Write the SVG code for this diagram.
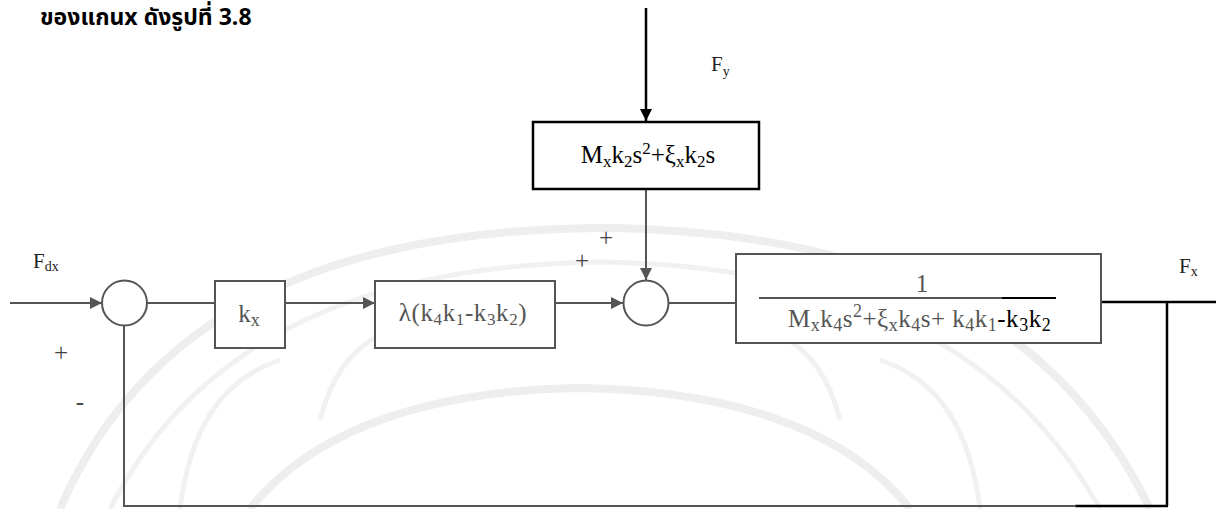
<svg xmlns="http://www.w3.org/2000/svg" width="1216" height="509" viewBox="0 0 1216 509">
  <defs>
    <marker id="arrowG" viewBox="0 0 12 12" refX="12" refY="6" markerWidth="12" markerHeight="12" markerUnits="userSpaceOnUse" orient="auto">
      <path d="M0,0 L12,6 L0,12 Z" fill="#555"/>
    </marker>
    <marker id="arrowK" viewBox="0 0 12 12" refX="12" refY="6" markerWidth="12" markerHeight="12" markerUnits="userSpaceOnUse" orient="auto">
      <path d="M0,0 L12,6 L0,12 Z" fill="#000"/>
    </marker>
    <style>
      .wm { fill: none; stroke: #eeeeee; stroke-width: 8; }
      .wm2 { fill: none; stroke: #f1f1f1; stroke-width: 5; }
      .blk { fill: #fff; stroke: #555; stroke-width: 2; }
      .blkK { fill: #fff; stroke: #000; stroke-width: 2.5; }
      .sum { fill: #fff; stroke: #555; stroke-width: 2; }
      .wire { fill: none; stroke: #555; stroke-width: 2; }
      .wireK { fill: none; stroke: #000; stroke-width: 2.5; }
      .tx { font-family: "Liberation Serif", "DejaVu Serif", serif; font-size: 25px; fill: #555; }
      .txK { font-family: "Liberation Serif", "DejaVu Serif", serif; font-size: 25px; fill: #000; }
      .sb { font-size: 17px; }
      .lbl { font-family: "Liberation Serif", "DejaVu Serif", serif; font-size: 21px; fill: #222; }
      .sign { font-family: "Liberation Serif", "DejaVu Serif", serif; font-size: 25px; fill: #444; }
      .thai { font-family: "Noto Sans Thai", "Noto Sans", "DejaVu Sans", sans-serif; font-size: 23px; font-weight: bold; fill: #000; }
    </style>
  </defs>

  <rect width="1216" height="509" fill="#fff"/>

  <!-- faint seal watermark behind the diagram -->
  <g id="watermark">
    <path class="wm" d="M60,509 C150,300 350,230 600,228 C850,230 1050,300 1150,509"/>
    <path class="wm2" d="M110,509 C200,330 380,265 600,262 C820,265 1000,330 1100,509"/>
    <path class="wm" d="M250,509 C320,420 450,390 580,388 C710,390 840,420 910,509"/>
    <path class="wm2" d="M180,509 C190,430 220,380 280,360"/>
    <path class="wm2" d="M980,509 C970,430 940,380 880,360"/>
    <path class="wm2" d="M320,420 C330,380 350,350 380,335"/>
    <path class="wm2" d="M840,420 C830,380 810,350 780,335"/>
  </g>

  <!-- page heading -->
  <text class="thai" x="40" y="25">ของแกนx ดังรูปที่ 3.8</text>

  <g id="connectors">
    <!-- disturbance F_y into the upper block -->
    <line class="wireK" x1="646" y1="8" x2="646" y2="121" marker-end="url(#arrowK)"/>
    <!-- upper block into second summing junction -->
    <line class="wire" x1="646" y1="190" x2="646" y2="280" marker-end="url(#arrowG)"/>
    <!-- F_dx input -->
    <line class="wire" x1="10" y1="303" x2="102" y2="303" marker-end="url(#arrowG)"/>
    <!-- sum 1 to k_x -->
    <line class="wire" x1="147" y1="303" x2="215" y2="303"/>
    <!-- k_x to lambda block -->
    <line class="wire" x1="285" y1="303" x2="375" y2="303" marker-end="url(#arrowG)"/>
    <!-- lambda block to sum 2 -->
    <line class="wire" x1="555" y1="303" x2="623" y2="303" marker-end="url(#arrowG)"/>
    <!-- sum 2 to plant -->
    <line class="wire" x1="669" y1="303" x2="736" y2="303"/>
    <!-- plant output F_x -->
    <line class="wireK" x1="1101" y1="302" x2="1216" y2="302"/>
    <!-- feedback path -->
    <line class="wireK" x1="1167" y1="302" x2="1167" y2="506"/>
    <line class="wireK" x1="1168" y1="506" x2="1075" y2="506"/>
    <polyline class="wire" points="1076,506 124,506 124,326"/>
  </g>

  <g id="sum1">
    <circle class="sum" cx="124.5" cy="303" r="22.5"/>
  </g>

  <g id="sum2">
    <circle class="sum" cx="646" cy="303" r="22.5"/>
  </g>

  <g id="kx">
    <rect class="blk" x="215" y="281" width="70" height="67"/>
    <text class="tx" x="249" y="322" text-anchor="middle" font-size="29">k<tspan font-size="18" dy="4">x</tspan></text>
  </g>

  <g id="lambda">
    <rect class="blk" x="375" y="281" width="180" height="67"/>
    <text class="tx" x="463" y="321" text-anchor="middle" letter-spacing="0.6">λ(k<tspan class="sb" dy="4">4</tspan><tspan dy="-4">k</tspan><tspan class="sb" dy="4">1</tspan><tspan dy="-4">-k</tspan><tspan class="sb" dy="4">3</tspan><tspan dy="-4">k</tspan><tspan class="sb" dy="4">2</tspan><tspan dy="-4">)</tspan></text>
  </g>

  <g id="coupling">
    <rect class="blkK" x="533" y="122" width="226" height="67"/>
    <text class="txK" x="648" y="163" text-anchor="middle">M<tspan class="sb" dy="4">x</tspan><tspan dy="-4">k</tspan><tspan class="sb" dy="4">2</tspan><tspan dy="-4">s</tspan><tspan class="sb" dy="-9">2</tspan><tspan dy="9">+ξ</tspan><tspan class="sb" dy="4">x</tspan><tspan dy="-4">k</tspan><tspan class="sb" dy="4">2</tspan><tspan dy="-4">s</tspan></text>
  </g>

  <g id="plant">
    <rect class="blk" x="736" y="254" width="365" height="89"/>
    <text class="tx" x="922" y="292" text-anchor="middle" font-size="27">1</text>
    <line x1="759" y1="298" x2="1002" y2="298" stroke="#555" stroke-width="2"/>
    <line x1="1002" y1="298" x2="1056" y2="298" stroke="#000" stroke-width="2"/>
    <text class="tx" x="788" y="327" font-size="27" letter-spacing="0.5">M<tspan font-size="18" dy="4">x</tspan><tspan dy="-4">k</tspan><tspan font-size="18" dy="4">4</tspan><tspan dy="-4">s</tspan><tspan font-size="18" dy="-10">2</tspan><tspan dy="10">+ξ</tspan><tspan font-size="18" dy="4">x</tspan><tspan dy="-4">k</tspan><tspan font-size="18" dy="4">4</tspan><tspan dy="-4">s+ k</tspan><tspan font-size="18" dy="4">4</tspan><tspan dy="-4">k</tspan><tspan font-size="18" dy="4">1</tspan><tspan dy="-4" fill="#000">-k</tspan><tspan font-size="18" dy="4" fill="#000">3</tspan><tspan dy="-4" fill="#000">k</tspan><tspan font-size="18" dy="4" fill="#000">2</tspan></text>
  </g>

  <g id="labels">
    <text class="lbl" x="711" y="71">F<tspan font-size="14" dy="5">y</tspan></text>
    <text class="lbl" x="33" y="268">F<tspan font-size="14" dy="3">dx</tspan></text>
    <text class="lbl" x="1179" y="273">F<tspan font-size="14" dy="3">x</tspan></text>
    <text class="sign" x="61" y="361" text-anchor="middle">+</text>
    <text class="sign" x="80" y="410" text-anchor="middle">-</text>
    <text class="sign" x="606" y="246" text-anchor="middle">+</text>
    <text class="sign" x="582" y="269" text-anchor="middle">+</text>
  </g>
</svg>
